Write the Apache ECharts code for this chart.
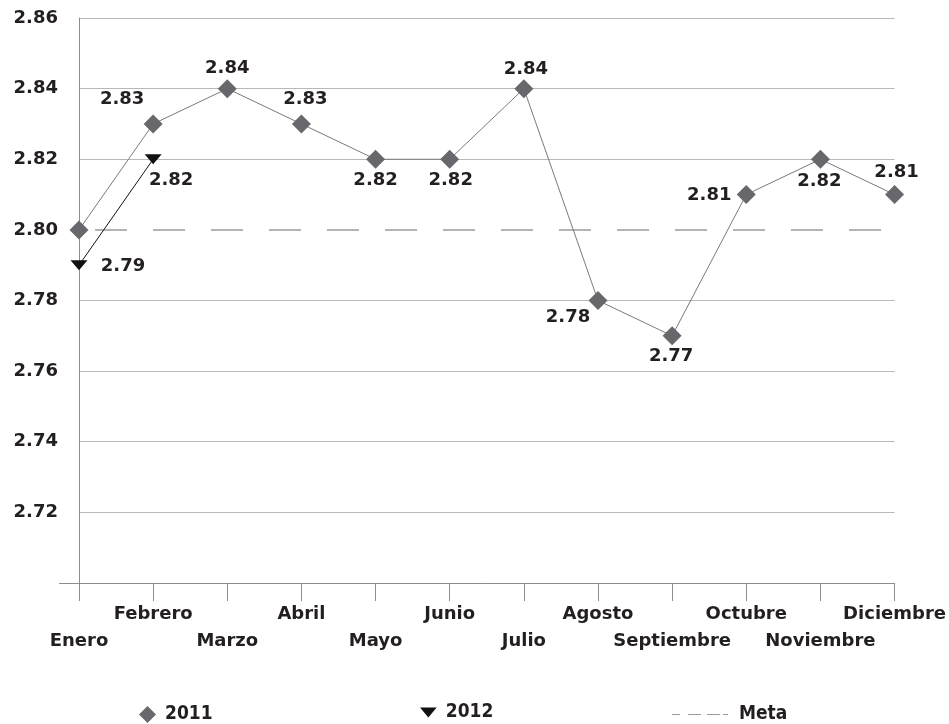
<!DOCTYPE html>
<html>
<head>
<meta charset="utf-8">
<style>
  html, body { margin: 0; padding: 0; background: #ffffff; }
  #chart { width: 949px; height: 724px; }
</style>
<script src="https://cdn.jsdelivr.net/npm/echarts@6/dist/echarts.min.js"></script>
</head>
<body>
<div id="chart"></div>
<script>
// Meses del año
const meses = ['Enero', 'Febrero', 'Marzo', 'Abril', 'Mayo', 'Junio',
  'Julio', 'Agosto', 'Septiembre', 'Octubre', 'Noviembre', 'Diciembre'];

// Valores mensuales
const serie2011 = [2.80, 2.83, 2.84, 2.83, 2.82, 2.82, 2.84, 2.78, 2.77, 2.81, 2.82, 2.81];
const serie2012 = [2.79, 2.82];
const meta = [2.80, 2.80, 2.80, 2.80, 2.80, 2.80, 2.80, 2.80, 2.80, 2.80, 2.80, 2.80];

// Marcas del eje vertical
const ejeY = [2.72, 2.74, 2.76, 2.78, 2.80, 2.82, 2.84, 2.86];
const Y_MIN = 2.70;
const Y_MAX = 2.86;
const Y_PASO = 0.02;

// Desplazamiento de cada etiqueta respecto a su punto (null = sin etiqueta)
const pos2011 = [null, [-31, -25], [0, -20], [4, -25], [0, 21], [1, 21],
  [2, -19], [-30, 17], [-1, 21], [-37, 1], [-1, 22], [2, -22]];
const pos2012 = [[44, 1], [18, 21]];

const FONT = 'DejaVu Sans';
const TEXT = '#231f20';
const EJE = '#8c8c8c';
const REJILLA = '#b8b8b8';
const META = '#9c9c9c';

// Líneas de rejilla desde 2.70 hasta 2.86; la de 2.80 queda libre para la meta
const coloresRejilla = [REJILLA, REJILLA, REJILLA, REJILLA, REJILLA,
  'rgba(0,0,0,0)', REJILLA, REJILLA, REJILLA];

function puntos(valores, desplazamientos) {
  return valores.map(function (v, i) {
    const d = desplazamientos[i];
    return {
      value: v,
      label: d ? {
        show: true, position: 'inside', offset: d,
        formatter: function (p) { return p.value.toFixed(2); }
      } : { show: false }
    };
  });
}

const etiqueta = {
  fontFamily: FONT, fontWeight: 'bold', fontSize: 18, color: TEXT
};

const leyendaTexto = {
  fontFamily: 'DejaVu Sans Condensed', fontWeight: 'bold', fontSize: 19, color: TEXT
};

const chart = echarts.init(document.getElementById('chart'), null, { renderer: 'canvas' });

chart.setOption({
  animation: false,
  backgroundColor: '#ffffff',
  grid: { left: 79, right: 53, top: 18, bottom: 141 },
  xAxis: {
    type: 'category',
    data: meses,
    boundaryGap: false,
    axisLine: { lineStyle: { color: EJE, width: 1 } },
    axisTick: { show: true, interval: 0, length: 18, lineStyle: { color: EJE } },
    axisLabel: {
      interval: 0, hideOverlap: false, margin: 18,
      fontFamily: FONT, fontWeight: 'bold', fontSize: 18, color: TEXT, lineHeight: 27,
      formatter: function (v, i) { return i % 2 === 0 ? '\n' + v : v; }
    },
    splitLine: { show: false }
  },
  yAxis: [
    {
      type: 'value',
      min: Y_MIN, max: Y_MAX, interval: Y_PASO,
      axisLine: { show: true, lineStyle: { color: EJE, width: 1 } },
      axisTick: { show: false },
      axisLabel: {
        customValues: ejeY, margin: 21,
        fontFamily: FONT, fontWeight: 'bold', fontSize: 18, color: TEXT,
        formatter: function (v) { return v.toFixed(2); }
      },
      splitLine: { show: true, lineStyle: { color: coloresRejilla, width: 1 } }
    },
    {
      // marca corta a la izquierda del origen, prolongando el eje horizontal
      type: 'value',
      position: 'left',
      min: Y_MIN, max: Y_MAX,
      axisLine: { show: false },
      axisTick: { show: true, customValues: [Y_MIN], length: 20, lineStyle: { color: EJE } },
      axisLabel: { show: false },
      splitLine: { show: false }
    }
  ],
  legend: [
    {
      data: [{ name: '2011', icon: 'diamond' }],
      left: 139, top: 705, padding: 0, itemWidth: 17, itemHeight: 17, itemGap: 0,
      itemStyle: { color: '#68686c', borderWidth: 0 },
      textStyle: Object.assign({ padding: [5, 0, 0, 4] }, leyendaTexto)
    },
    {
      data: [{ name: '2012', icon: 'path://M0,0L2,0L1,1.2Z' }],
      left: 420, top: 703, padding: 0, itemWidth: 17, itemHeight: 10, itemGap: 0,
      itemStyle: { color: '#111111', borderWidth: 0 },
      textStyle: Object.assign({ padding: [4, 0, 0, 4] }, leyendaTexto)
    },
    {
      data: [{ name: 'Meta', icon: 'path://M0,0h8v1h-8z M16,0h13v1h-13z M35,0h13v1h-13z M51,0h5v1h-5z' }],
      left: 672, top: 705, padding: 0, itemWidth: 56, itemHeight: 1.5, itemGap: 0,
      itemStyle: { color: META, borderWidth: 0 },
      textStyle: Object.assign({ padding: [0, 0, 0, 6] }, leyendaTexto)
    }
  ],
  series: [
    {
      name: 'Meta',
      type: 'line',
      data: meta,
      symbol: 'none',
      z: 1,
      silent: true,
      itemStyle: { color: META },
      lineStyle: { color: META, width: 1.5, type: [32, 26], dashOffset: 42 }
    },
    {
      name: '2011',
      type: 'line',
      data: puntos(serie2011, pos2011),
      symbol: 'diamond',
      symbolSize: 19,
      z: 3,
      itemStyle: { color: '#68686c', borderWidth: 0 },
      lineStyle: { color: '#7a7a7a', width: 1 },
      label: etiqueta,
      emphasis: { disabled: true }
    },
    {
      name: '2012',
      type: 'line',
      data: puntos(serie2012, pos2012),
      symbol: 'triangle',
      symbolRotate: 180,
      symbolSize: [17, 10],
      z: 4,
      itemStyle: { color: '#111111', borderWidth: 0 },
      lineStyle: { color: '#111111', width: 1 },
      label: etiqueta,
      emphasis: { disabled: true }
    }
  ]
});
</script>
</body>
</html>
